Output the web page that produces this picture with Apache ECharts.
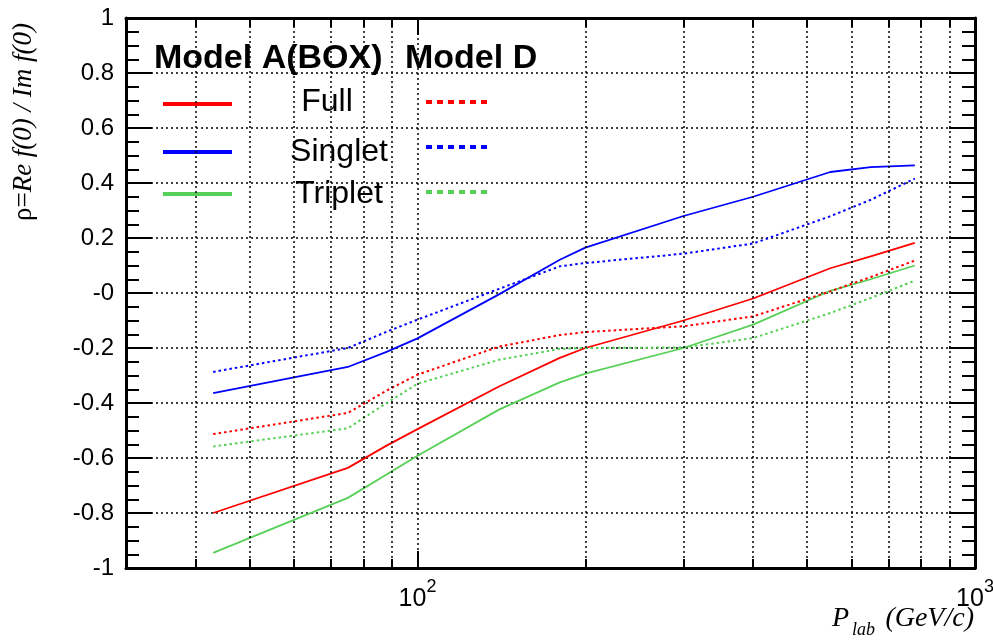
<!DOCTYPE html>
<html>
<head>
<meta charset="utf-8">
<script src="https://cdn.jsdelivr.net/npm/echarts@6/dist/echarts.min.js"></script>
<style>
  html, body { margin: 0; padding: 0; background: #fff; }
  #chart { width: 993px; height: 640px; }
</style>
</head>
<body>
<div id="chart"></div>
<script>
// P_lab (GeV/c) sample points
const pLab = [43, 75, 88, 100, 140, 180, 200, 300, 400, 550, 650, 780];

// Model A(BOX) - solid
const fullA    = [-0.800, -0.636, -0.555, -0.495, -0.340, -0.236, -0.200, -0.100, -0.020, 0.090, 0.133, 0.182];
const singletA = [-0.364, -0.269, -0.214, -0.165, -0.005, 0.121, 0.165, 0.280, 0.350, 0.440, 0.458, 0.464];
const tripletA = [-0.945, -0.745, -0.660, -0.592, -0.424, -0.325, -0.293, -0.200, -0.115, 0.008, 0.050, 0.100];

// Model D - dotted
const fullD    = [-0.513, -0.436, -0.355, -0.297, -0.195, -0.153, -0.142, -0.121, -0.085, 0.006, 0.058, 0.118];
const singletD = [-0.287, -0.200, -0.141, -0.097, 0.015, 0.097, 0.109, 0.143, 0.180, 0.279, 0.339, 0.416];
const tripletD = [-0.558, -0.492, -0.400, -0.330, -0.243, -0.203, -0.200, -0.198, -0.164, -0.073, -0.018, 0.045];

// axis ranges and log minor grid values
const xRange = [30, 1000];
const yRange = [-1, 1];
const xMinorGrid = [40, 50, 60, 70, 80, 90, 200, 300, 400, 500, 600, 700, 800, 900];

const RED = '#ff0000', BLUE = '#0000ff', GREEN = '#57d057';
const SANS = 'Liberation Sans', SERIF = 'Liberation Serif';
const gridDash = { color: '#000', type: [2, 3], width: 1.5 };
const frame = { show: true, onZero: false, lineStyle: { color: '#000', width: 3 } };

function pairs(ys) {
  return pLab.map((p, i) => [p, ys[i]]);
}

function curve(name, ys, color, dotted) {
  return {
    name: name,
    type: 'line',
    xAxisIndex: 0,
    yAxisIndex: 0,
    data: pairs(ys),
    symbol: 'none',
    showSymbol: false,
    smooth: false,
    z: 3,
    lineStyle: { color: color, width: dotted ? 2 : 1.8, type: dotted ? [2.5, 3] : 'solid' }
  };
}

// short tick marks on the log axis (bottom and top), in data units
const minorLen = 9 / 275;
const tickLines = [];
xMinorGrid.forEach(v => {
  tickLines.push([{ coord: [v, yRange[0]] }, { coord: [v, yRange[0] + minorLen] }]);
  tickLines.push([{ coord: [v, yRange[1]] }, { coord: [v, yRange[1] - minorLen] }]);
});

const chart = echarts.init(document.getElementById('chart'));

let option = {
  animation: false,
  backgroundColor: '#fff',
  grid: {
    left: 126,
    right: 18,
    top: 18,
    bottom: 72,
    containLabel: false,
    outerBoundsMode: 'none'
  },
  xAxis: [
    {
      type: 'log',
      logBase: 10,
      min: xRange[0],
      max: xRange[1],
      position: 'bottom',
      axisLine: frame,
      axisTick: { show: true, inside: true, length: 17, lineStyle: { color: '#000', width: 2 } },
      minorTick: { show: false },
      axisLabel: {
        show: true,
        margin: 10,
        color: '#000',
        formatter: function (v) {
          const e = Math.round(Math.log10(v));
          if (Math.abs(v - Math.pow(10, e)) > 1e-6 * v) return '';
          return '{b|10}{s|' + e + '}';
        },
        rich: {
          b: { fontSize: 25, fontFamily: SANS, color: '#000', padding: [9, 0, 0, 0], verticalAlign: 'bottom' },
          s: { fontSize: 18, fontFamily: SANS, color: '#000', verticalAlign: 'top' }
        }
      },
      splitLine: { show: true, lineStyle: gridDash }
    },
    {
      type: 'log',
      logBase: 10,
      min: xRange[0],
      max: xRange[1],
      position: 'top',
      axisLine: frame,
      axisTick: { show: true, inside: true, length: 17, lineStyle: { color: '#000', width: 2 } },
      axisLabel: { show: false },
      splitLine: { show: false }
    }
  ],
  yAxis: [
    {
      type: 'value',
      min: yRange[0],
      max: yRange[1],
      interval: 0.2,
      position: 'left',
      axisLine: frame,
      axisTick: { show: true, inside: true, length: 26, lineStyle: { color: '#000', width: 2 } },
      minorTick: { show: true, splitNumber: 4, length: 13, lineStyle: { color: '#000', width: 2 } },
      axisLabel: {
        margin: 12,
        color: '#000',
        fontSize: 24,
        fontFamily: SANS,
        formatter: function (v) {
          if (Math.abs(v) < 1e-9) return '-0'; // as printed on the original
          return String(Math.round(v * 10) / 10);
        }
      },
      splitLine: { show: true, lineStyle: gridDash }
    },
    {
      type: 'value',
      min: yRange[0],
      max: yRange[1],
      interval: 0.2,
      position: 'right',
      axisLine: frame,
      axisTick: { show: true, inside: true, length: 26, lineStyle: { color: '#000', width: 2 } },
      minorTick: { show: true, splitNumber: 4, length: 13, lineStyle: { color: '#000', width: 2 } },
      axisLabel: { show: false },
      splitLine: { show: false }
    }
  ],
  series: [
    {
      // vertical log grid
      name: 'grid',
      type: 'line',
      data: [],
      z: 1,
      silent: true,
      markLine: {
        silent: true,
        symbol: ['none', 'none'],
        label: { show: false },
        animation: false,
        lineStyle: gridDash,
        emphasis: { disabled: true },
        data: xMinorGrid.map(v => ({ xAxis: v }))
      }
    },
    {
      // small ticks on bottom / top
      name: 'ticks',
      type: 'line',
      data: [],
      z: 4,
      silent: true,
      markLine: {
        silent: true,
        symbol: ['none', 'none'],
        label: { show: false },
        animation: false,
        lineStyle: { color: '#000', type: 'solid', width: 2 },
        emphasis: { disabled: true },
        data: tickLines
      }
    },
    curve('Full A', fullA, RED, false),
    curve('Singlet A', singletA, BLUE, false),
    curve('Triplet A', tripletA, GREEN, false),
    curve('Full D', fullD, RED, true),
    curve('Singlet D', singletD, BLUE, true),
    curve('Triplet D', tripletD, GREEN, true)
  ],
  graphic: [
    // y axis title
    {
      type: 'text',
      x: 24,
      y: 122,
      rotation: Math.PI / 2,
      style: {
        text: '{u|ρ=}{i|Re f(0) / Im f(0)}',
        align: 'center',
        verticalAlign: 'middle',
        rich: {
          u: { fontFamily: SERIF, fontSize: 27, fill: '#000' },
          i: { fontFamily: SERIF, fontSize: 27, fontStyle: 'italic', fill: '#000' }
        }
      }
    },
    // x axis title
    { type: 'text', x: 832, y: 619, style: { text: 'P', fontFamily: SERIF, fontStyle: 'italic', fontSize: 28, fill: '#000', align: 'left', verticalAlign: 'middle' } },
    { type: 'text', x: 852, y: 630, style: { text: 'lab', fontFamily: SERIF, fontStyle: 'italic', fontSize: 18, fill: '#000', align: 'left', verticalAlign: 'middle' } },
    { type: 'text', x: 974, y: 619, style: { text: '(GeV/c)', fontFamily: SERIF, fontStyle: 'italic', fontSize: 28, fill: '#000', align: 'right', verticalAlign: 'middle' } },

    // legend headers
    { type: 'text', x: 154, y: 59, style: { text: 'Model A(BOX)', fontFamily: SANS, fontWeight: 'bold', fontSize: 34, fill: '#000', align: 'left', verticalAlign: 'middle' } },
    { type: 'text', x: 405, y: 59, style: { text: 'Model D', fontFamily: SANS, fontWeight: 'bold', fontSize: 34, fill: '#000', align: 'left', verticalAlign: 'middle' } },

    // legend labels
    { type: 'text', x: 327, y: 102, style: { text: 'Full', fontFamily: SANS, fontSize: 32, fill: '#000', align: 'center', verticalAlign: 'middle' } },
    { type: 'text', x: 339, y: 152, style: { text: 'Singlet', fontFamily: SANS, fontSize: 32, fill: '#000', align: 'center', verticalAlign: 'middle' } },
    { type: 'text', x: 339, y: 194, style: { text: 'Triplet', fontFamily: SANS, fontSize: 32, fill: '#000', align: 'center', verticalAlign: 'middle' } },

    // legend swatches, solid (Model A)
    { type: 'line', shape: { x1: 163, y1: 104, x2: 232, y2: 104 }, style: { stroke: RED, lineWidth: 4 } },
    { type: 'line', shape: { x1: 163, y1: 152, x2: 232, y2: 152 }, style: { stroke: BLUE, lineWidth: 4 } },
    { type: 'line', shape: { x1: 163, y1: 194, x2: 232, y2: 194 }, style: { stroke: GREEN, lineWidth: 4 } },
    // legend swatches, dotted (Model D)
    { type: 'line', shape: { x1: 426, y1: 102, x2: 492, y2: 102 }, style: { stroke: RED, lineWidth: 4, lineDash: [6, 5] } },
    { type: 'line', shape: { x1: 426, y1: 147, x2: 492, y2: 147 }, style: { stroke: BLUE, lineWidth: 4, lineDash: [6, 5] } },
    { type: 'line', shape: { x1: 426, y1: 192, x2: 492, y2: 192 }, style: { stroke: GREEN, lineWidth: 4, lineDash: [6, 5] } }
  ]
};

chart.setOption(option);
</script>
</body>
</html>
